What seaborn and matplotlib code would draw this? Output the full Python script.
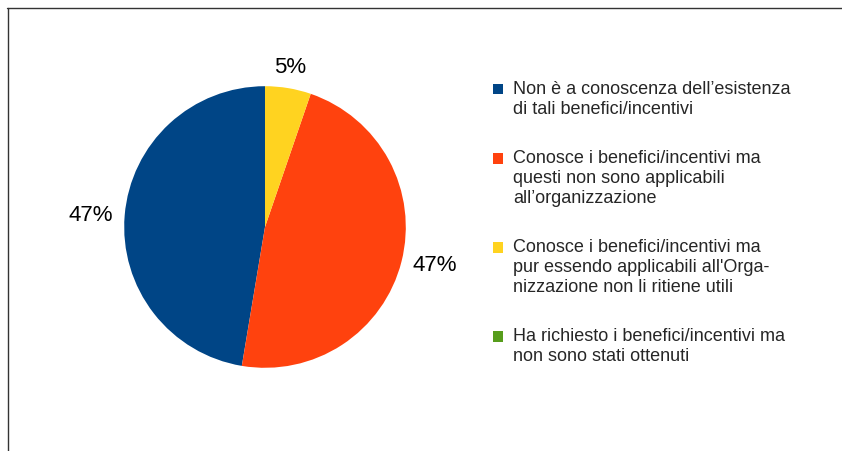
import matplotlib
matplotlib.use("Agg")
import numpy as np
import matplotlib.pyplot as plt
import seaborn as sns
from matplotlib.legend_handler import HandlerPatch
from matplotlib.patches import Rectangle
from matplotlib.lines import Line2D

# answer categories (legend text) and counts
categories = [
    "Non è a conoscenza dell’esistenza\ndi tali benefici/incentivi",
    "Conosce i benefici/incentivi ma\nquesti non sono applicabili\nall’organizzazione",
    "Conosce i benefici/incentivi ma\npur essendo applicabili all'Orga-\nnizzazione non li ritiene utili",
    "Ha richiesto i benefici/incentivi ma\nnon sono stati ottenuti",
]
counts = [9, 9, 1, 0]
colors = ["#004586", "#ff420e", "#ffd320", "#579d1c"]

sns.set_theme(style="white")
plt.rcParams['font.family'] = ['Liberation Sans', 'DejaVu Sans']

fig = plt.figure(figsize=(8.42, 4.52), dpi=100)
ax = fig.add_axes([89 / 842, 48 / 452, 352 / 842, 352 / 452])


def pct(p):
    return f"{p:.0f}%" if p > 0 else ""


wedges, texts, autotexts = ax.pie(
    counts, colors=colors, startangle=90, counterclock=True,
    autopct=pct, wedgeprops=dict(linewidth=0),
    textprops=dict(fontsize=16, color="black"),
)
ax.set_xlim(-1.25, 1.25)
ax.set_ylim(-1.25, 1.25)

# percentage labels just outside the rim, anchored by their near edge
for w, t in zip(wedges, autotexts):
    a = np.deg2rad((w.theta1 + w.theta2) / 2)
    c, s = np.cos(a), np.sin(a)
    t.set_position((1.08 * c, 1.08 * s))
    t.set_ha("left" if c > 0.5 else "right" if c < -0.5 else "center")
    t.set_va("bottom" if s > 0.5 else "top" if s < -0.5 else "center")

# legend keys aligned with the first line of each (multi-line) label
legend_fs = 13
line_sp = 1.25
n_lines = {w: c.count("\n") + 1 for w, c in zip(wedges, categories)}


def top_key(legend, orig_handle, xdescent, ydescent, width, height, fontsize):
    s = (n_lines[orig_handle] - 1) * 0.5 * line_sp * 0.86 * fontsize
    return Rectangle((-xdescent, -ydescent + s), width, height)


leg = fig.legend(
    wedges, categories, loc="upper left",
    bbox_to_anchor=(493 / 842, 1 - 81 / 452), bbox_transform=fig.transFigure,
    frameon=False, fontsize=legend_fs, borderpad=0, borderaxespad=0,
    handlelength=0.55, handleheight=0.55, handletextpad=0.55, labelspacing=1.75,
    handler_map={w: HandlerPatch(patch_func=top_key) for w in wedges},
)
for t in leg.get_texts():
    t.set_linespacing(line_sp)

# outer frame (top and left edges visible)
fig.add_artist(Line2D([7 / 842, 1], [1 - 8.5 / 452] * 2, transform=fig.transFigure,
                      color="#333333", lw=1))
fig.add_artist(Line2D([7.5 / 842] * 2, [0, 1 - 8.5 / 452], transform=fig.transFigure,
                      color="#333333", lw=1))

fig.savefig("out.png", dpi=100)
